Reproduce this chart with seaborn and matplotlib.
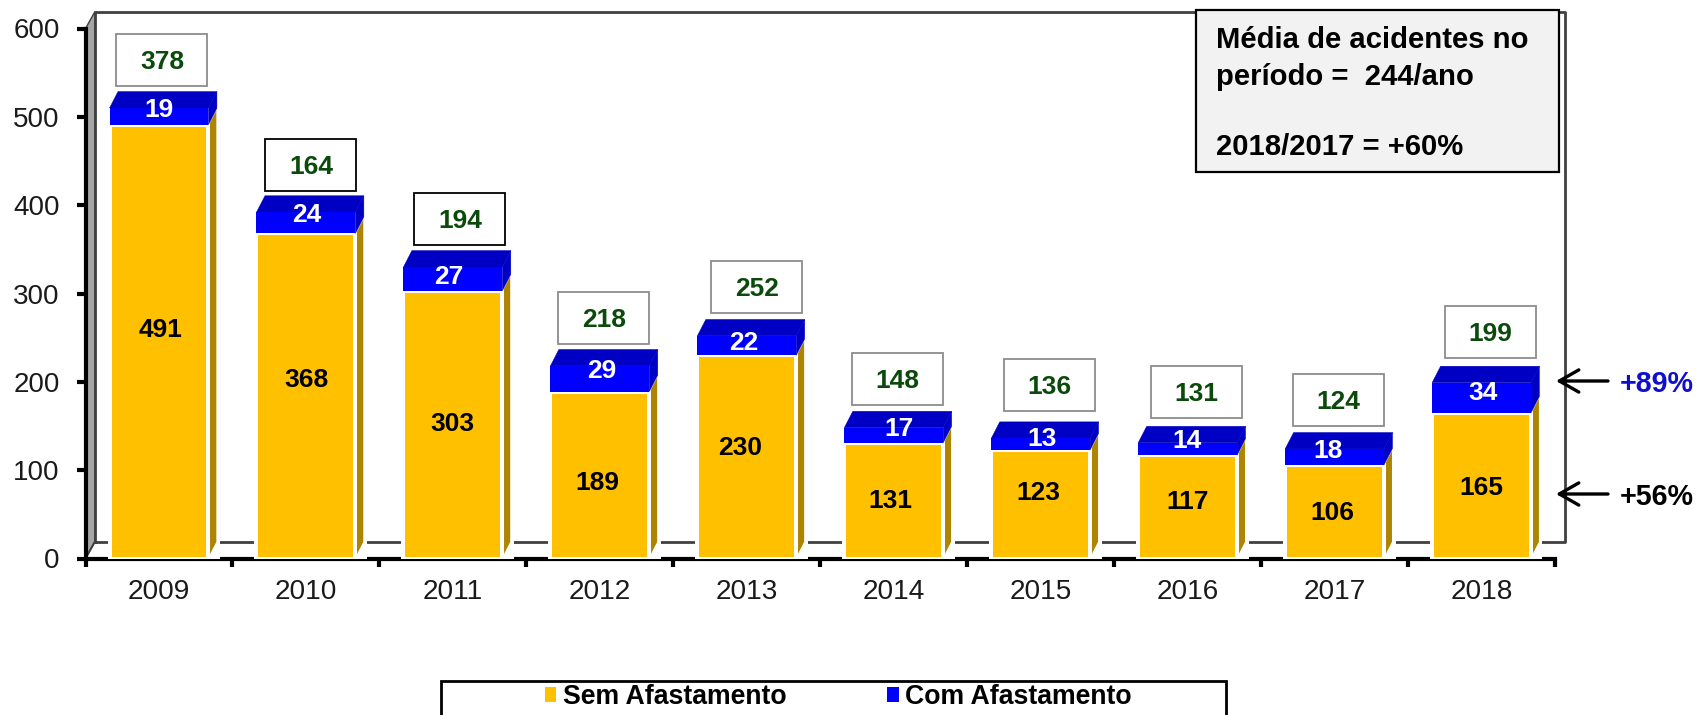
import numpy as np
import pandas as pd
import matplotlib.pyplot as plt
from matplotlib.patches import Patch, Polygon, Rectangle
import seaborn as sns

sns.set_theme(style='white')
plt.rcParams['font.family'] = ['Liberation Sans', 'DejaVu Sans']

years = ['2009', '2010', '2011', '2012', '2013', '2014', '2015', '2016', '2017', '2018']
sem_afast = [491, 368, 303, 189, 230, 131, 123, 117, 106, 165]
com_afast = [19, 24, 27, 29, 22, 17, 13, 14, 18, 34]
totals = [378, 164, 194, 218, 252, 148, 136, 131, 124, 199]

# label placement by hand, offsets in pixels from bar centre (y up)
sem_dx = [2, 1, 0, -2, -7, -3, -2, 0, -2, 0]
sem_dy = [12, 16, 1, -8, 9, 0, 11, 5, -1, -2]
com_dx = [0, 1, -4, 2, -3, 5, 1, -1, -7, 2]
com_dy = [6, 8, 2, 8, 3, 6, 5, 8, 6, 5]
box_dx = [3, 5, 7, 4, 10, 4, 9, 9, 4, 9]
box_dy = [48, 47, 48, 48, 49, 49, 53, 51, 49, 51]
box_edges = ['#8c8c8c', 'black', 'black', '#8c8c8c', '#8c8c8c', '#8c8c8c', '#8c8c8c', '#8c8c8c', '#8c8c8c', '#8c8c8c']

GOLD = '#FFC000'
GOLD_SIDE = '#AD8500'
BLUE = '#0000FF'
BLUE_DARK = '#0000C4'
GREEN = '#0B4A0B'

W, H = 1698, 715
fig = plt.figure(figsize=(W / 100, H / 100), dpi=100)
ax = fig.add_axes([85.5 / W, (H - 558.5) / H, 1469.5 / W, 530 / H])

df = pd.DataFrame({'ano': years, 'sem': sem_afast, 'com': com_afast})
bar_w = 0.673
sns.barplot(data=df, x='ano', y='sem', color=GOLD, saturation=1, width=bar_w, errorbar=None, ax=ax,
            edgecolor='white', linewidth=2.9, zorder=3)
sns.barplot(data=df, x='ano', y='com', bottom=df['sem'], color=BLUE, saturation=1, width=bar_w, errorbar=None, ax=ax,
            edgecolor='none', linewidth=0, zorder=4)
ax.set_xlim(-0.5, 9.5)
ax.set_ylim(0, 600)
ax.set_xlabel('')
ax.set_ylabel('')

px_x = 10 / 1469.5  # one pixel in category units
px_y = 600 / 530    # one pixel in value units
bar_dx, bar_dy = 8.5 * px_x, 16.5 * px_y
wall_dx, wall_dy = 9.5 * px_x, 17 * px_y

# the 3d look: side and top faces from the bars themselves
n = len(years)
gold_bars, blue_bars = ax.patches[:n], ax.patches[n:2 * n]
for g, b in zip(gold_bars, blue_bars):
    x0, x1 = b.get_x(), b.get_x() + b.get_width()
    y0, y1 = b.get_y(), b.get_y() + b.get_height()
    # white backing hides the floor line next to the bar
    ax.add_patch(Rectangle((x1, 0), bar_dx + 3 * px_x, y0, fc='white', ec='none', zorder=2.7, clip_on=False))
    ax.add_patch(Polygon([(x1, 0), (x1, y0), (x1 + bar_dx, y0 + bar_dy), (x1 + bar_dx, bar_dy)], fc=GOLD_SIDE,
                         ec='white', lw=0.8, zorder=2.8, clip_on=False))
    ax.add_patch(Polygon([(x1, y0), (x1, y1), (x1 + bar_dx, y1 + bar_dy), (x1 + bar_dx, y0 + bar_dy)], fc=BLUE_DARK,
                         ec=BLUE_DARK, lw=0.3, zorder=3.5, clip_on=False))
    ax.add_patch(Polygon([(x0, y1), (x0 + bar_dx, y1 + bar_dy), (x1 + bar_dx, y1 + bar_dy), (x1, y1)], fc=BLUE_DARK,
                         ec=BLUE_DARK, lw=0.3, zorder=3.5, clip_on=False))

# back wall, left wall and floor
ax.add_patch(Polygon([(-0.5, 0), (-0.5, 600), (-0.5 + wall_dx, 600 + wall_dy), (-0.5 + wall_dx, wall_dy)], fc='#A6A6A6',
                     ec='#404040', lw=1.0, zorder=0.6, clip_on=False))
wall_x = [-0.5 + wall_dx, -0.5 + wall_dx, 9.5 + wall_dx, 9.5 + wall_dx, -0.5 + wall_dx]
wall_y = [wall_dy, 600 + wall_dy, 600 + wall_dy, wall_dy, wall_dy]
ax.plot(wall_x, wall_y, color='#404040', lw=2.0, zorder=0.7, clip_on=False)
ax.plot([-0.5, -0.5 + wall_dx], [0, wall_dy], color='#404040', lw=1.4, zorder=0.7, clip_on=False)

sns.despine(ax=ax)
for side in ['left', 'bottom']:
    ax.spines[side].set_linewidth(3.0)
    ax.spines[side].set_color('black')
    ax.spines[side].set_zorder(1)

ax.set_yticks(np.arange(0, 601, 100))
ax.set_xticks(np.arange(-0.5, 10), minor=True)
ax.tick_params(axis='x', which='major', length=0, pad=15, labelsize=20.2, labelcolor='#1a1a1a')
ax.tick_params(axis='x', which='minor', direction='out', length=6, width=3, color='black', bottom=True)
ax.tick_params(axis='y', direction='out', length=6.5, width=3, color='black', left=True, pad=12, labelsize=20,
               labelcolor='#1a1a1a')

# values on the bars and boxes with the totals
for i in range(n):
    ax.text(i + sem_dx[i] * px_x, sem_afast[i] / 2 + sem_dy[i] * px_y, str(sem_afast[i]), ha='center', va='center',
            fontsize=19, fontweight='bold', color='black', zorder=6)
    ax.text(i + com_dx[i] * px_x, sem_afast[i] + com_afast[i] / 2 + com_dy[i] * px_y, str(com_afast[i]), ha='center',
            va='center', fontsize=19, fontweight='bold', color='white', zorder=6)
    top = sem_afast[i] + com_afast[i]
    bx, by = i + box_dx[i] * px_x, top + box_dy[i] * px_y
    ax.add_patch(Rectangle((bx - 45.5 * px_x, by - 26 * px_y), 91 * px_x, 52 * px_y, fc='white', ec=box_edges[i], lw=1.3,
                           zorder=5, clip_on=False))
    ax.text(bx, by - 2 * px_y, str(totals[i]), ha='center', va='center', fontsize=19, fontweight='bold', color=GREEN,
            zorder=6, clip_on=False)


def fpos(px, py):
    return px / W, (H - py) / H


# info box top right
fig.add_artist(Rectangle(fpos(1196, 172), 363 / W, 162 / H, transform=fig.transFigure, fc='#F2F2F2', ec='black', lw=1.6,
                         zorder=7))
fig.text(*fpos(1216, 40), 'Média de acidentes no', fontsize=21.1, fontweight='bold', color='black', va='center', zorder=8)
fig.text(*fpos(1216, 77), 'período =  244/ano', fontsize=21.1, fontweight='bold', color='black', va='center', zorder=8)
fig.text(*fpos(1216, 147), '2018/2017 = +60%', fontsize=21.1, fontweight='bold', color='black', va='center', zorder=8)

# arrows on the right
for y_arrow, txt, col, x_txt in [(381, '+89%', '#1010CC', 1694), (494, '+56%', 'black', 1694)]:
    ax.annotate('', xy=fpos(1556, y_arrow), xytext=fpos(1608, y_arrow), xycoords='figure fraction',
                textcoords='figure fraction',
                arrowprops=dict(arrowstyle='->,head_length=0.7,head_width=0.4', color='black', lw=2.4, mutation_scale=20,
                                shrinkA=0, shrinkB=0))
    fig.text(*fpos(x_txt, y_arrow + 3), txt, fontsize=20.6, fontweight='bold', color=col, ha='right', va='center')

# legend, its frame runs off the bottom of the picture
fig.add_artist(Rectangle(fpos(441, 725), 785 / W, 44 / H, transform=fig.transFigure, fc='white', ec='black', lw=2))
handles = [Patch(fc=GOLD, ec='none', label='Sem Afastamento'), Patch(fc=BLUE, ec='none', label='Com Afastamento')]
fig.legend(handles=handles, ncol=2, frameon=False, prop=dict(size=19.2, weight='bold'), labelcolor='black',
           handlelength=0.42, handleheight=0.5, handletextpad=0.25, columnspacing=3.8, loc='center left',
           bbox_to_anchor=fpos(534, 697), borderaxespad=0)

fig.savefig('out.png', dpi=100)
